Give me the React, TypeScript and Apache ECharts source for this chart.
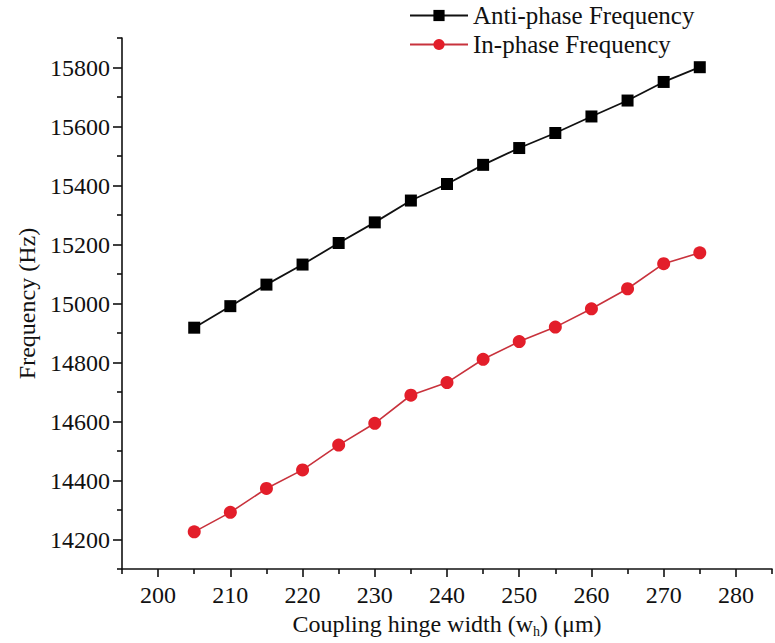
import React, { useEffect, useRef } from "react";
import * as echarts from "echarts";

const widths = [205, 210, 215, 220, 225, 230, 235, 240, 245, 250, 255, 260, 265, 270, 275];
const antiPhase = [14918, 14991, 15064, 15132, 15205, 15275, 15349, 15405, 15470, 15527, 15578, 15634, 15688, 15751, 15801];
const inPhase = [14226, 14292, 14373, 14436, 14520, 14594, 14689, 14732, 14811, 14871, 14920, 14982, 15050, 15135, 15172];
const yMajor = [14200, 14400, 14600, 14800, 15000, 15200, 15400, 15600, 15800];
const yMinor = [14100, 14300, 14500, 14700, 14900, 15100, 15300, 15500, 15700, 15900];
const xMajor = [200, 210, 220, 230, 240, 250, 260, 270, 280];
const xMinor = [195, 205, 215, 225, 235, 245, 255, 265, 275, 285];

const FONT = "Liberation Serif";

export default function App() {
  const ref = useRef<HTMLDivElement>(null);
  useEffect(() => {
    if (!ref.current) return;
    const chart = echarts.init(ref.current, null, { renderer: "svg" });
    const axisLine = { show: true, lineStyle: { color: "#111", width: 1.6 } };
    const xBase = { type: "value", min: 195, max: 285, splitLine: { show: false } };
    const yBase = { type: "value", min: 14100, max: 15900, splitLine: { show: false } };
    const plain = (v: number) => String(v);
    chart.setOption({
      animation: false,
      backgroundColor: "#fff",
      textStyle: { fontFamily: FONT },
      grid: { left: 122, right: 3, top: 38, bottom: 73, containLabel: false },
      legend: {
        orient: "vertical",
        left: 404,
        top: -2,
        itemWidth: 58,
        itemHeight: 14,
        itemGap: 4,
        textStyle: { fontFamily: FONT, fontSize: 25, color: "#111" },
        data: ["Anti-phase Frequency", "In-phase Frequency"],
      },
      xAxis: [
        {
          ...xBase,
          name: "Coupling hinge width (w{sub|h}) (μm)",
          nameLocation: "middle",
          nameGap: 41,
          nameTextStyle: {
            fontFamily: FONT,
            fontSize: 24,
            color: "#111",
            rich: { sub: { fontFamily: FONT, fontSize: 14, color: "#111", padding: [14, 0, 0, 0] } },
          },
          axisLine,
          axisTick: { show: true, inside: false, length: 8, customValues: xMajor, lineStyle: { color: "#111", width: 1.6 } },
          axisLabel: { customValues: xMajor, formatter: plain, fontFamily: FONT, fontSize: 24, color: "#111", margin: 14 },
        },
        {
          ...xBase,
          position: "bottom",
          axisLine: { show: false },
          axisTick: { show: true, length: 5, customValues: xMinor, lineStyle: { color: "#111", width: 1.6 } },
          axisLabel: { show: false },
        },
      ],
      yAxis: [
        {
          ...yBase,
          name: "Frequency (Hz)",
          nameLocation: "middle",
          nameGap: 80,
          nameTextStyle: { fontFamily: FONT, fontSize: 24, color: "#111" },
          axisLine,
          axisTick: { show: true, inside: false, length: 9, customValues: yMajor, lineStyle: { color: "#111", width: 1.6 } },
          axisLabel: { customValues: yMajor, formatter: plain, fontFamily: FONT, fontSize: 24, color: "#111", margin: 12 },
        },
        {
          ...yBase,
          position: "left",
          axisLine: { show: false },
          axisTick: { show: true, length: 5, customValues: yMinor, lineStyle: { color: "#111", width: 1.6 } },
          axisLabel: { show: false },
        },
      ],
      series: [
        {
          name: "Anti-phase Frequency",
          type: "line",
          data: widths.map((w, i) => [w, antiPhase[i]]),
          symbol: "rect",
          symbolSize: 12,
          lineStyle: { color: "#111", width: 1.8 },
          itemStyle: { color: "#000" },
        },
        {
          name: "In-phase Frequency",
          type: "line",
          data: widths.map((w, i) => [w, inPhase[i]]),
          symbol: "circle",
          symbolSize: 13,
          lineStyle: { color: "#c8323c", width: 1.6 },
          itemStyle: { color: "#e31e2a" },
        },
      ],
    });
    return () => chart.dispose();
  }, []);
  return <div ref={ref} style={{ position: "fixed", left: 0, top: 0, width: 775, height: 643, background: "#fff" }} />;
}
